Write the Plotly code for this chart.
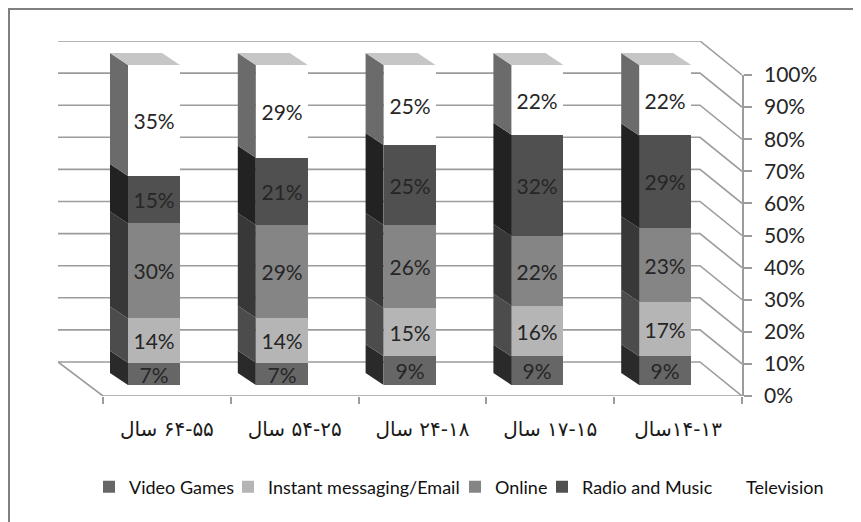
import plotly.graph_objects as go

PAGE = 8  # the page's own margin around the figure
W, H = 861 - PAGE, 522 - PAGE
categories = ["سال\u200e ۶۴-۵۵", "سال\u200e ۵۴-۲۵", "سال\u200e ۲۴-۱۸", "سال\u200e ۱۷-۱۵", "سال\u200e۱۴-۱۳"]
y_ticks = [0, 10, 20, 30, 40, 50, 60, 70, 80, 90, 100]
y_ticktext = [f"{v}%" for v in y_ticks]

video_games = [7, 7, 9, 9, 9]
instant_messaging = [14, 14, 15, 16, 17]
online = [30, 29, 26, 22, 23]
radio_music = [15, 21, 25, 32, 29]
television = [35, 29, 25, 22, 22]

series_names = ["Video Games", "Instant messaging/Email", "Online", "Radio and Music", "Television"]
series_values = [video_games, instant_messaging, online, radio_music, television]
front_colors = ["#666666", "#b5b5b5", "#858585", "#505050", "#ffffff"]
side_colors = ["#2a2a2a", "#4c4c4c", "#383838", "#222222", "#6b6b6b"]
legend_text_x = [129, 268, 495, 582, 746]
top_color = "#c6c6c6"
line_color = "#9c9c9c"
text_color = "#262626"
font_fam = "Lato"


def dom_x(a, b):
    return [(a - PAGE) / W, (b - PAGE) / W]


def dom_y(top, bottom):
    return [(H - (bottom - PAGE)) / H, (H - (top - PAGE)) / H]


fig = go.Figure()

wall_left, wall_right, frame_right = 58, 700, 742
unit = (wall_right - wall_left) / 5
x_end = 4.5 + (frame_right - wall_right) / unit
depth_pct = 34 / 3.21
floor_x0 = -0.5 + 45 / unit
wx, wy = [], []
for v in y_ticks:
    wx += [-0.5, 4.5, x_end, None]
    wy += [v, v, v - depth_pct, None]
wx += [-0.5, floor_x0, x_end]
wy += [0, -depth_pct, -depth_pct]
fig.add_trace(go.Scatter(x=wx, y=wy, mode="lines", line=dict(color=line_color, width=1.6),
                         hoverinfo="skip", showlegend=False, xaxis="x", yaxis="y"))

bar_w = 52 / 127.8
dx = 18 / 127.8
dy = 12 / 3.2
xs = list(range(len(categories)))
totals = [sum(s[i] for s in series_values) for i in xs]
cum = [0.0] * len(xs)
legends = {}
for k, (name, vals, fc, sc, lx) in enumerate(zip(series_names, series_values, front_colors, side_colors, legend_text_x)):
    lname = "legend" if k == 0 else f"legend{k + 1}"
    legends[lname] = dict(orientation="h", x=(lx - 40 - PAGE) / W, y=(H - (487 - PAGE)) / H,
                          xanchor="left", yanchor="middle", traceorder="normal",
                          bgcolor="rgba(0,0,0,0)", font=dict(size=18, color="#111111", family=font_fam),
                          itemclick=False, itemdoubleclick=False)
    fig.add_trace(go.Bar(x=xs, y=vals, name=name, legend=lname,
                         marker=dict(color=fc, line=dict(width=0)),
                         width=bar_w, text=[f"{v}%" for v in vals], textposition="inside",
                         insidetextanchor="middle", textangle=0, constraintext="none",
                         textfont=dict(color=text_color, size=21, family=font_fam),
                         hoverinfo="skip", xaxis="x2", yaxis="y2"))
    px, py = [], []
    for i in xs:
        lo = cum[i]
        hi = lo + vals[i] * 100 / totals[i]
        cum[i] = hi
        l = i - bar_w / 2
        px += [l, l, l - dx, l - dx, l, None]
        py += [lo, hi, hi + dy, lo + dy, lo, None]
    fig.add_trace(go.Scatter(x=px, y=py, mode="lines", fill="toself", fillcolor=sc,
                             line=dict(width=0, color=sc), hoverinfo="skip", showlegend=False,
                             xaxis="x2", yaxis="y2"))
tx, ty = [], []
for i in xs:
    l = i - bar_w / 2
    r = i + bar_w / 2
    tx += [l, r, r - dx, l - dx, l, None]
    ty += [100, 100, 100 + dy, 100 + dy, 100, None]
fig.add_trace(go.Scatter(x=tx, y=ty, mode="lines", fill="toself", fillcolor=top_color,
                         line=dict(width=0, color=top_color), hoverinfo="skip", showlegend=False,
                         xaxis="x2", yaxis="y2"))

fig.add_trace(go.Scatter(x=categories, y=[None] * 5, mode="lines", hoverinfo="skip",
                         showlegend=False, xaxis="x3", yaxis="y3"))

hidden = dict(visible=False, fixedrange=True)
fig.update_layout(
    width=W, height=H, paper_bgcolor="#ffffff", plot_bgcolor="rgba(0,0,0,0)",
    margin=dict(l=0, r=0, t=0, b=0, autoexpand=False), barmode="stack", barnorm="percent", bargap=0,
    showlegend=True,
    xaxis=dict(domain=dom_x(wall_left, frame_right), range=[-0.5, x_end], **hidden),
    yaxis=dict(domain=dom_y(41, 396), range=[-depth_pct, 100], **hidden),
    xaxis2=dict(domain=dom_x(154 - 63.9, 154 + 4.5 * 127.8), range=[-0.5, 4.5], **hidden),
    yaxis2=dict(domain=dom_y(33, 385), range=[0, 110], **hidden),
    xaxis3=dict(domain=dom_x(103, 742), type="category", categoryorder="array", categoryarray=categories,
                range=[-0.5, 4.5], tickson="boundaries", ticks="outside", ticklen=7, tickcolor=line_color,
                tickwidth=1.6, showline=False, showgrid=False, zeroline=False, fixedrange=True,
                tickfont=dict(size=20, color="#1a1a1a", family="DejaVu Sans"), tickangle=0,
                ticklabelstandoff=19, anchor="y3"),
    yaxis3=dict(domain=dom_y(75, 396), range=[0, 100], side="right", anchor="x3", tickvals=y_ticks,
                ticktext=y_ticktext, ticks="outside", ticklen=8, tickcolor=line_color, tickwidth=1.6,
                showline=True, linecolor=line_color, linewidth=1.6, showgrid=False, zeroline=False,
                ticklabelstandoff=8, fixedrange=True, tickfont=dict(size=21, color="#262626", family=font_fam)),
    shapes=[
        dict(type="line", xref="paper", yref="paper", x0=0, x1=1, y0=1 - 1 / H, y1=1 - 1 / H,
             line=dict(color="#808080", width=2)),
        dict(type="line", xref="paper", yref="paper", x0=1 / W, x1=1 / W, y0=0, y1=1,
             line=dict(color="#808080", width=2)),
    ],
    **legends,
)
fig.write_html("out.html")
